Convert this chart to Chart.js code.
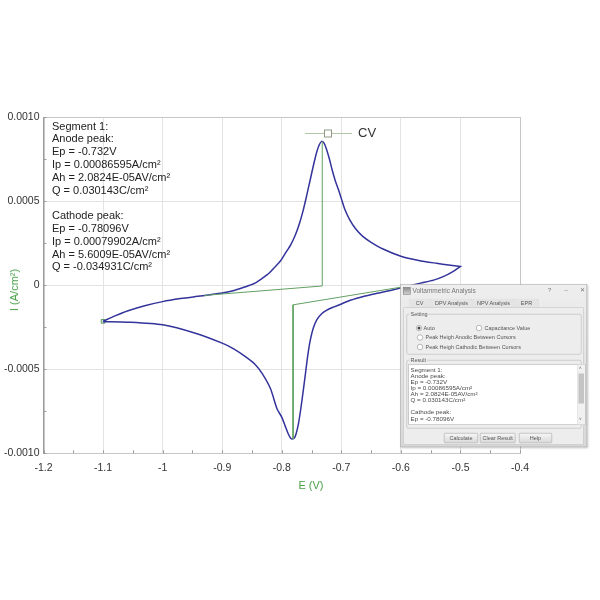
<!DOCTYPE html>
<html>
<head>
<meta charset="utf-8">
<script src="https://cdn.jsdelivr.net/npm/chart.js@4.4.0/dist/chart.umd.min.js"></script>
<style>
body { margin: 0; background: #fff; font-family: "Liberation Sans", Arial, sans-serif; }
#wrap { position: relative; width: 600px; height: 600px; overflow: hidden; }
#cv { position: absolute; left: 0; top: 0; }
#note { position: absolute; left: 52px; top: 119.6px; font-size: 11px; line-height: 12.8px; color: #222; white-space: pre; }
#ytitle { position: absolute; left: 14px; top: 290px; transform: translate(-50%, -50%) rotate(-90deg); font-size: 11px; color: #4a9f4a; white-space: nowrap; }
#xtitle { position: absolute; left: 311px; top: 485px; transform: translate(-50%, -50%); font-size: 11px; color: #4a9f4a; white-space: nowrap; }

/* analysis window, built at 2x and scaled down */
#dlg { position: absolute; left: 400px; top: 284px; width: 372px; height: 324px; transform: scale(0.5); transform-origin: 0 0;
  background: linear-gradient(#eeeeee, #d8d8d8); border: 1px solid #a0a0a0; box-shadow: 2px 2px 4px rgba(0,0,0,0.25); color: #444; }
#dlg div { position: absolute; }
#dlg .ico { left: 5px; top: 5px; width: 13px; height: 13px; background: linear-gradient(#8a8a8a, #cfcfcf); border: 1px solid #666; }
#dlg .ttl { left: 24px; top: 5px; font-size: 13px; color: #777; }
#dlg .ctl { top: 4px; font-size: 12px; color: #777; }
#dlg .tab { top: 28px; height: 17px; line-height: 17px; font-size: 11px; text-align: center; border: 1px solid #a8a8a8; border-bottom: none; background: #e4e4e4; border-radius: 3px 3px 0 0; color: #555; }
#dlg .panel { left: 6px; top: 46px; width: 358px; height: 272px; background: #ededed; border: 1px solid #bcbcbc; }
#dlg .grp { left: 12px; width: 348px; border: 1px solid #aaaaaa; border-radius: 4px; }
#dlg .lbl { left: 18px; font-size: 11px; background: #ededed; padding: 0 2px; color: #555; }
#dlg .rad { width: 10px; height: 10px; border: 1px solid #7a7a7a; border-radius: 50%; background: #fff; }
#dlg .rad.on::after { content: ""; position: absolute; left: 2px; top: 2px; width: 6px; height: 6px; border-radius: 50%; background: #444; }
#dlg .txt { font-size: 11px; line-height: 12px; color: #555; white-space: nowrap; }
#dlg .box { left: 16px; top: 159px; width: 352px; height: 120px; background: #fff; border: 1px solid #a0a0a0; overflow: hidden; }
#dlg .res { left: 3px; top: 4px; font-size: 12.5px; line-height: 12.2px; color: #4a4a4a; white-space: pre; }
#dlg .sb { right: 0; top: 0; width: 15px; height: 120px; background: #f1f1f1; border-left: 1px solid #ddd; }
#dlg .thumb { left: 2px; top: 18px; width: 11px; height: 60px; background: #c4c4c4; }
#dlg .arr { left: 3px; font-size: 9px; color: #666; }
#dlg .btn { top: 297px; height: 18px; line-height: 18px; font-size: 11px; text-align: center; border: 1px solid #9a9a9a; border-radius: 2px; background: linear-gradient(#f6f6f6, #dadada); color: #555; }
</style>
</head>
<body>
<div id="wrap">
<canvas id="cv" width="600" height="600"></canvas>
<div id="note">Segment 1:
Anode peak:
Ep = -0.732V
Ip = 0.00086595A/cm²
Ah = 2.0824E-05AV/cm²
Q = 0.030143C/cm²

Cathode peak:
Ep = -0.78096V
Ip = 0.00079902A/cm²
Ah = 5.6009E-05AV/cm²
Q = -0.034931C/cm²</div>
<div id="ytitle">I (A/cm²)</div>
<div id="xtitle">E (V)</div>

<div id="dlg">
  <div class="ico"></div>
  <div class="ttl">Voltammetric Analysis</div>
  <div class="ctl" style="left:295px">?</div>
  <div class="ctl" style="left:328px">–</div>
  <div class="ctl" style="left:359px">✕</div>
  <div class="tab" style="left:16px;width:42px">CV</div>
  <div class="tab" style="left:60px;width:82px">DPV Analysis</div>
  <div class="tab" style="left:144px;width:82px">NPV Analysis</div>
  <div class="tab" style="left:228px;width:46px">EPR</div>
  <div class="panel"></div>
  <div class="grp" style="top:59px;height:79px"></div>
  <div class="lbl" style="top:52px">Setting</div>
  <div class="rad on" style="left:31px;top:81px"></div>
  <div class="txt" style="left:46px;top:80px">Auto</div>
  <div class="rad" style="left:151px;top:81px"></div>
  <div class="txt" style="left:168px;top:80px">Capacitance Value</div>
  <div class="rad" style="left:33px;top:100px"></div>
  <div class="txt" style="left:50px;top:99px">Peak Heigh Anodic Between Cursors</div>
  <div class="rad" style="left:33px;top:119px"></div>
  <div class="txt" style="left:50px;top:118px">Peak Heigh Cathodic Between Cursors</div>
  <div class="grp" style="top:151px;height:135px"></div>
  <div class="lbl" style="top:144px">Result</div>
  <div class="box">
    <div class="res">Segment 1:
Anode peak:
Ep = -0.732V
Ip = 0.00086595A/cm²
Ah = 2.0824E-05AV/cm²
Q = 0.030143C/cm²

Cathode peak:
Ep = -0.78096V</div>
    <div class="sb"><div class="arr" style="top:2px">˄</div><div class="thumb"></div><div class="arr" style="top:104px">˅</div></div>
  </div>
  <div class="btn" style="left:87px;width:66px">Calculate</div>
  <div class="btn" style="left:159px;width:69px">Clear Result</div>
  <div class="btn" style="left:237px;width:64px">Help</div>
</div>
</div>

<script>
// forward scan (-1.1 V -> -0.5 V)
const fwdE = [-1.100, -1.080, -1.058, -1.030, -1.000, -0.970, -0.945, -0.920, -0.900, -0.880,
  -0.861, -0.845, -0.833, -0.821, -0.811, -0.802, -0.793, -0.785, -0.777, -0.770,
  -0.764, -0.758, -0.752, -0.746, -0.741, -0.737, -0.733, -0.729, -0.725, -0.720,
  -0.715, -0.710, -0.705, -0.700, -0.694, -0.686, -0.676, -0.664, -0.650, -0.630,
  -0.600, -0.570, -0.540, -0.520, -0.500];
const fwdI = [-0.000215, -0.000183, -0.000152, -0.000122, -0.000098, -0.000080, -0.000068, -0.000057, -0.000047, -0.000032,
  -0.000010, 0.000012, 0.000040, 0.000072, 0.000110, 0.000145, 0.000195, 0.000240, 0.000300, 0.000370,
  0.000445, 0.000535, 0.000630, 0.000725, 0.000795, 0.000835, 0.000855, 0.000845, 0.000810, 0.000750,
  0.000680, 0.000620, 0.000570, 0.000515, 0.000450, 0.000390, 0.000335, 0.000290, 0.000255, 0.000215,
  0.000172, 0.000147, 0.000130, 0.000120, 0.000111];
// reverse scan (-0.5 V -> -1.1 V)
const revE = [-0.500, -0.512, -0.528, -0.545, -0.567, -0.585, -0.600, -0.620, -0.640, -0.660,
  -0.685, -0.702, -0.715, -0.725, -0.733, -0.741, -0.747, -0.752, -0.756, -0.760,
  -0.764, -0.768, -0.772, -0.776, -0.779, -0.782, -0.785, -0.789, -0.794, -0.800,
  -0.808, -0.819, -0.833, -0.845, -0.861, -0.880, -0.900, -0.945, -1.000, -1.058, -1.100];
const revI = [0.000111, 0.000082, 0.000052, 0.000030, 0.000012, -0.000003, -0.000016, -0.000033, -0.000048, -0.000064,
  -0.000090, -0.000115, -0.000133, -0.000150, -0.000170, -0.000205, -0.000255, -0.000325, -0.000410, -0.000520,
  -0.000630, -0.000735, -0.000825, -0.000885, -0.000910, -0.000915, -0.000910, -0.000885, -0.000840, -0.000785,
  -0.000735, -0.000615, -0.000525, -0.000470, -0.000425, -0.000380, -0.000345, -0.000286, -0.000236, -0.000220, -0.000217];
// peak baselines
const anodeBaseE = [-0.930, -0.732, -0.732];
const anodeBaseI = [-0.000061, -0.000005, 0.000855];
const cathodeBaseE = [-0.600, -0.781, -0.781];
const cathodeBaseI = [-0.000012, -0.000117, -0.000915];
// start point marker
const startE = [-1.100];
const startI = [-0.000215];
// ticks
const xTicks = [-1.2, -1.1, -1.0, -0.9, -0.8, -0.7, -0.6, -0.5, -0.4];
const yTicks = [-0.0010, -0.0005, 0, 0.0005, 0.0010];

function pts(xs, ys) {
  return xs.map((v, i) => ({ x: v, y: ys[i] }));
}

const framePlugin = {
  id: 'frame',
  beforeDatasetsDraw(chart) {
    const { ctx, chartArea: a, scales } = chart;
    ctx.save();
    ctx.strokeStyle = '#c6c6c6';
    ctx.lineWidth = 1;
    ctx.strokeRect(Math.round(a.left) + 0.5, Math.round(a.top) + 0.5,
      Math.round(a.right - a.left) - 1, Math.round(a.bottom - a.top));
    // minor ticks
    ctx.strokeStyle = '#9c9c9c';
    ctx.beginPath();
    for (let v = -1.2; v <= -0.399; v += 0.05) {
      const px = Math.round(scales.x.getPixelForValue(v)) + 0.5;
      ctx.moveTo(px, a.bottom);
      ctx.lineTo(px, a.bottom - 3);
    }
    for (let v = -0.001; v <= 0.00101; v += 0.00025) {
      const py = Math.round(scales.y.getPixelForValue(v)) + 0.5;
      ctx.moveTo(a.left, py);
      ctx.lineTo(a.left + 3, py);
    }
    ctx.stroke();
    ctx.restore();
  },
  afterDraw(chart) {
    const { ctx } = chart;
    ctx.save();
    ctx.strokeStyle = '#b2c6a8';
    ctx.lineWidth = 1;
    ctx.beginPath();
    ctx.moveTo(305, 133.5);
    ctx.lineTo(352, 133.5);
    ctx.stroke();
    ctx.fillStyle = '#ffffff';
    ctx.strokeStyle = '#8e9a86';
    ctx.fillRect(324.5, 130, 7, 7);
    ctx.strokeRect(324.5, 130, 7, 7);
    ctx.fillStyle = '#333';
    ctx.font = '13px "Liberation Sans", Arial, sans-serif';
    ctx.textBaseline = 'middle';
    ctx.fillText('CV', 358, 133.5);
    ctx.restore();
  }
};

const config = {
  type: 'scatter',
  data: {
    datasets: [
      {
        label: 'anode baseline',
        data: pts(anodeBaseE, anodeBaseI),
        showLine: true, borderColor: '#62a062', borderWidth: 1, pointRadius: 0, tension: 0
      },
      {
        label: 'cathode baseline',
        data: pts(cathodeBaseE, cathodeBaseI),
        showLine: true, borderColor: '#62a062', borderWidth: 1, pointRadius: 0, tension: 0
      },
      {
        label: 'CV',
        data: pts(fwdE, fwdI).concat(pts(revE, revI)),
        showLine: true, borderColor: '#33339c', borderWidth: 1.5, pointRadius: 0, tension: 0.25
      },
      {
        label: 'start',
        data: pts(startE, startI),
        pointStyle: 'rect', pointRadius: 2.6, borderColor: '#5a9a5a', borderWidth: 1,
        backgroundColor: 'rgba(190,220,190,0.6)'
      }
    ]
  },
  options: {
    responsive: false,
    animation: false,
    devicePixelRatio: 1,
    layout: { padding: { top: 117, right: 80, left: 0, bottom: 0 } },
    plugins: { legend: { display: false }, tooltip: { enabled: false } },
    scales: {
      x: {
        type: 'linear', min: -1.2, max: -0.4,
        afterBuildTicks: s => { s.ticks = xTicks.map(v => ({ value: v })); },
        afterFit: s => { s.height = 146.7; },
        ticks: {
          padding: 9, color: '#333',
          font: { family: '"Liberation Sans", Arial, sans-serif', size: 10.5 },
          callback: v => parseFloat(v.toFixed(1)).toString()
        },
        grid: { color: '#e3e3e3', drawTicks: false },
        border: { color: '#9c9c9c' }
      },
      y: {
        type: 'linear', min: -0.001, max: 0.001,
        afterBuildTicks: s => { s.ticks = yTicks.map(v => ({ value: v })); },
        afterFit: s => { s.width = 43.5; },
        ticks: {
          padding: 4, color: '#333',
          font: { family: '"Liberation Sans", Arial, sans-serif', size: 10.5 },
          callback: v => (Math.abs(v) < 1e-9 ? '0' : v.toFixed(4))
        },
        grid: { color: '#e3e3e3', drawTicks: false },
        border: { color: '#9c9c9c' }
      }
    }
  },
  plugins: [framePlugin]
};

var myChart = new Chart(document.getElementById('cv'), config);
</script>
</body>
</html>
